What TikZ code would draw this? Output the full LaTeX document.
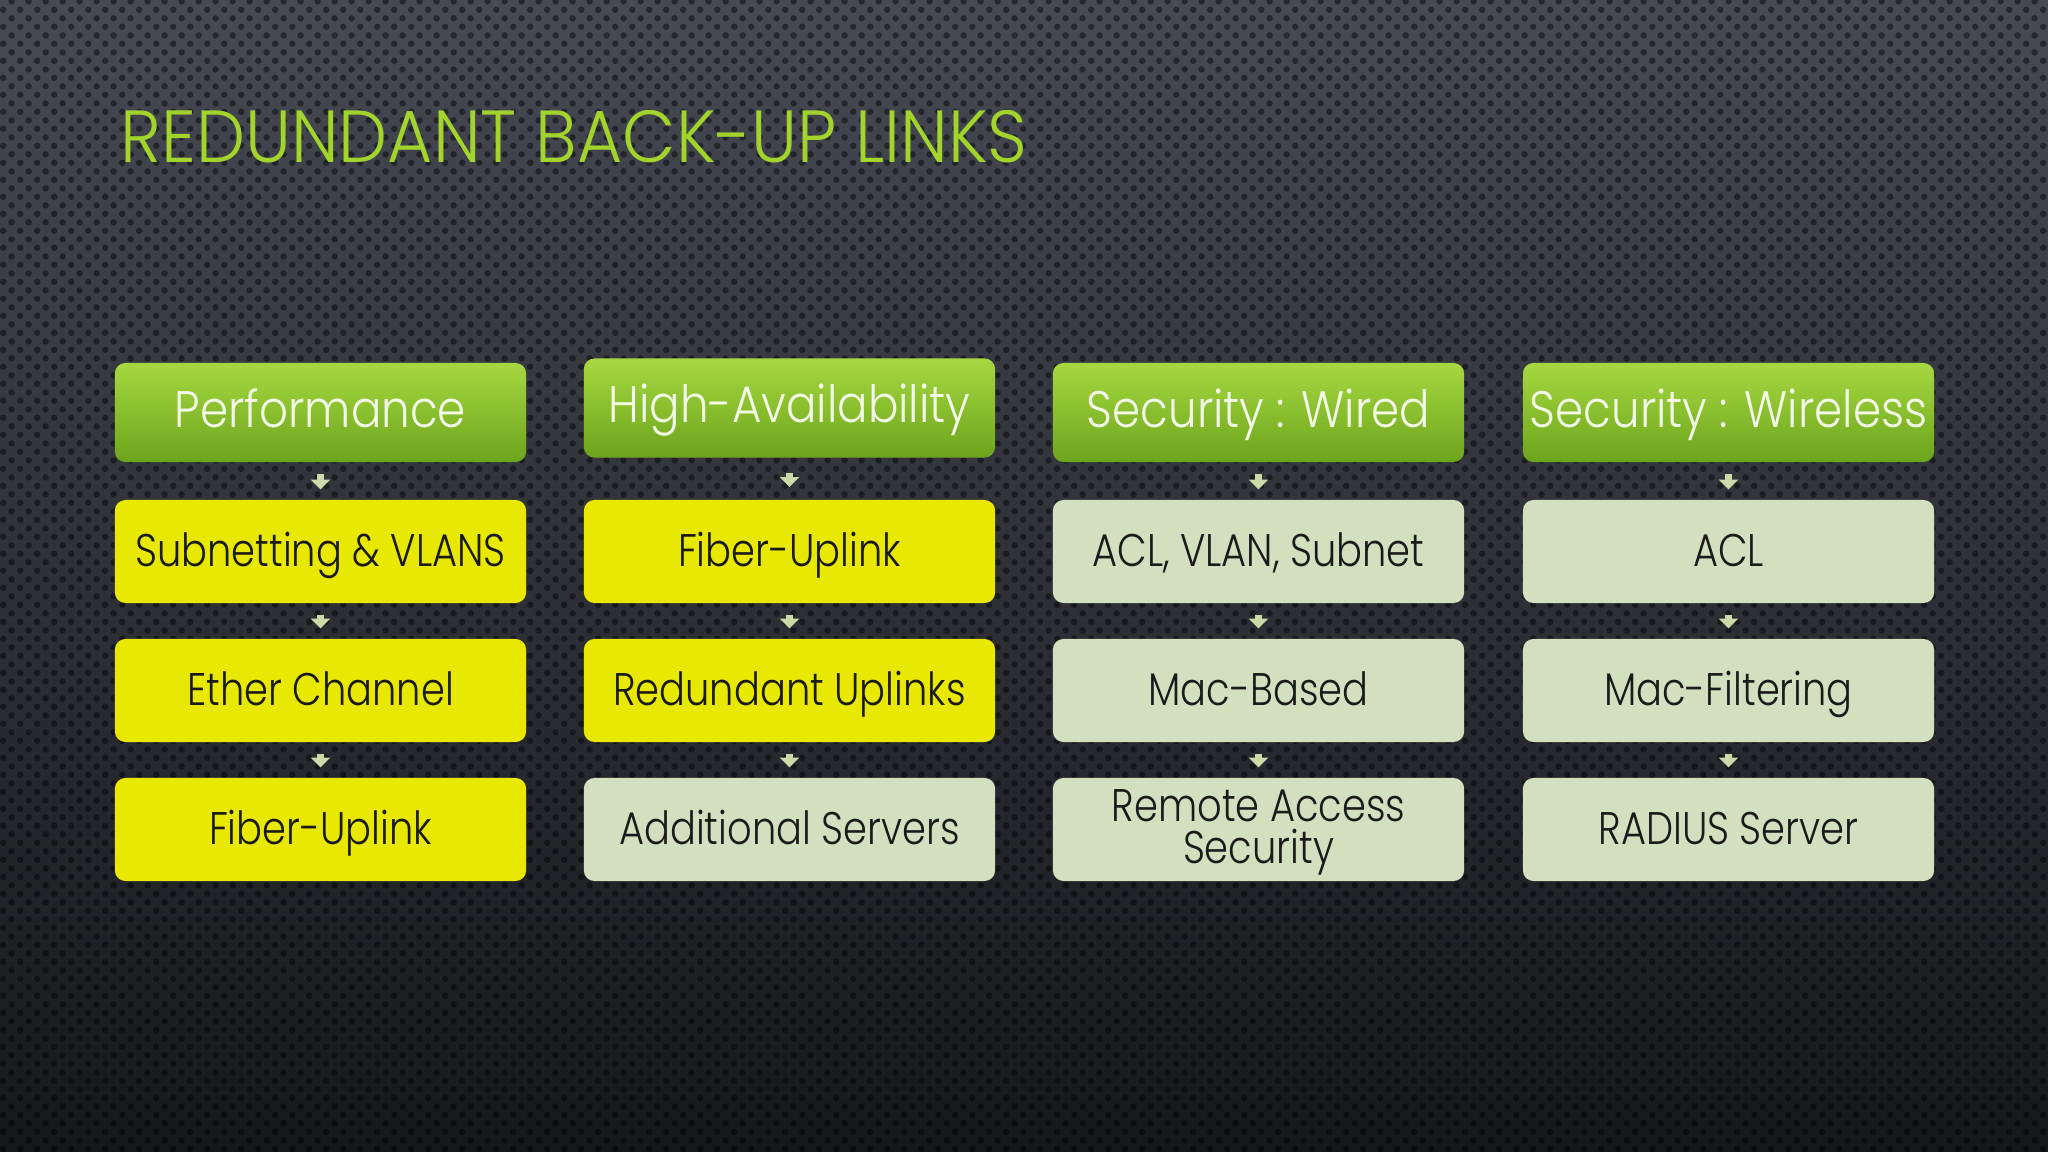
\documentclass[tikz,border=0pt]{standalone}
\usepackage{fontspec}
\IfFontExistsTF{Poppins Light}{%
  \setmainfont{Poppins Light}
  \newfontfamily\titlefont{Poppins Light}[FakeStretch=0.94]
  \newfontfamily\hdrfont{Poppins Light}[FakeStretch=0.88]
  \newfontfamily\boxfont{Poppins Light}[FakeStretch=0.84]
}{%
  \setmainfont{Poppins}
  \newfontfamily\titlefont{Poppins}[FakeStretch=0.91]
  \newfontfamily\hdrfont{Poppins}[FakeStretch=0.88]
  \newfontfamily\boxfont{Poppins}[FakeStretch=0.83]
}
\usetikzlibrary{arrows.meta,patterns}
\definecolor{bgtop}{HTML}{474A53}
\definecolor{bgmid}{HTML}{35383F}
\definecolor{bgbot}{HTML}{16171A}
\definecolor{titlegreen}{HTML}{A2D42C}
\definecolor{hdrtop}{HTML}{A6D840}
\definecolor{hdrbot}{HTML}{6CA41C}
\definecolor{hdrtext}{HTML}{F2F9E6}
\definecolor{yelbox}{HTML}{E8E802}
\definecolor{palebox}{HTML}{D3E0C0}
\definecolor{arrowc}{HTML}{CCDAAA}
\definecolor{boxtext}{HTML}{1A1A1A}
\pgfdeclarepatternformonly{bgdots}{\pgfqpoint{0pt}{0pt}}{\pgfqpoint{4.95pt}{4.95pt}}{\pgfqpoint{4.95pt}{4.95pt}}{%
  \pgfpathcircle{\pgfqpoint{1.24pt}{1.24pt}}{0.95pt}%
  \pgfpathcircle{\pgfqpoint{3.71pt}{3.71pt}}{0.95pt}%
  \pgfusepath{fill}}
\tikzset{
  hdr/.style={rounded corners=3pt, top color=hdrtop, bottom color=hdrbot,
    minimum width=4.11cm, minimum height=0.99cm, inner sep=0pt,
    text height=2.0ex, text depth=0.45ex,
    text=hdrtext, font=\hdrfont\fontsize{14.6}{16}\selectfont},
  ybox/.style={rounded corners=3pt, fill=yelbox, minimum width=4.11cm,
    minimum height=1.03cm, inner sep=0pt, text=boxtext,
    font=\boxfont\fontsize{13}{11.8}\selectfont, align=center},
  one/.style={text height=2.0ex, text depth=0.45ex},
  pbox/.style={ybox, fill=palebox},
  link/.style={draw=arrowc, line width=2.2pt,
    -{Triangle[width=5.4pt,length=2.8pt]}, shorten <=3.2pt, shorten >=2.8pt}
}
\begin{document}
\begin{tikzpicture}[x=0.01cm, y=-0.01cm]
\useasboundingbox (0,0) rectangle (2048,1152);
\fill[top color=bgtop, middle color=bgmid, bottom color=bgbot] (0,0) rectangle (2048,1152);
\fill[pattern=bgdots, pattern color=black, fill opacity=0.45] (0,0) rectangle (2048,1152);

\node[anchor=base west, inner sep=0pt, text=titlegreen, font=\titlefont\fontsize{21}{24}\selectfont] (title) at (120,163) {REDUNDANT BACK-UP LINKS};

% column 1
\node[hdr] (h1) at (320.5,412.5) {Performance};
\node[ybox, one] (a1) at (320.5,551.5) {Subnetting \& VLANS};
\node[ybox, one] (a2) at (320.5,690.5) {Ether Channel};
\node[ybox, one] (a3) at (320.5,829.5) {Fiber-Uplink};
% column 2
\node[hdr] (h2) at (789.5,408) {High-Availability};
\node[ybox, one] (b1) at (789.5,551.5) {Fiber-Uplink};
\node[ybox, one] (b2) at (789.5,690.5) {Redundant Uplinks};
\node[pbox, one] (b3) at (789.5,829.5) {Additional Servers};
% column 3
\node[hdr] (h3) at (1258.5,412.5) {Security : Wired};
\node[pbox, one] (c1) at (1258.5,551.5) {ACL, VLAN, Subnet};
\node[pbox, one] (c2) at (1258.5,690.5) {Mac-Based};
\node[pbox, text depth=0.3ex] (c3) at (1258.5,829.5) {Remote Access\\Security};
% column 4
\node[hdr] (h4) at (1728.5,412.5) {Security : Wireless};
\node[pbox, one] (d1) at (1728.5,551.5) {ACL};
\node[pbox, one] (d2) at (1728.5,690.5) {Mac-Filtering};
\node[pbox, one] (d3) at (1728.5,829.5) {RADIUS Server};

\foreach \c in {a,b,c,d}{
  \draw[link] (\c1) -- (\c2);
  \draw[link] (\c2) -- (\c3);
}
\draw[link] (h1) -- (a1);
\draw[link, shorten <=4.2pt, shorten >=3.5pt] (h2) -- (b1);
\draw[link] (h3) -- (c1);
\draw[link] (h4) -- (d1);
\end{tikzpicture}
\end{document}
